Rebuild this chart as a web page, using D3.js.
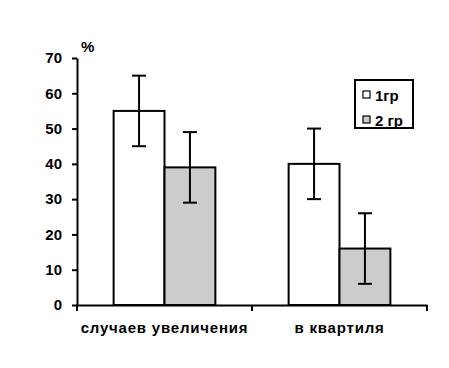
<!DOCTYPE html>
<html>
<head>
<meta charset="utf-8">
<script src="https://cdn.jsdelivr.net/npm/d3@7"></script>
<style>
  body { margin: 0; background: #fff; }
  text { font-family: "Liberation Sans", Arial, sans-serif; font-weight: bold; }
</style>
</head>
<body>
<div id="chart"></div>
<script>
// data
const categories = ["случаев увеличения", "в квартиля"];
const seriesNames = ["1гр", "2 гр"];
const group1 = [55, 40];
const group2 = [39, 16];
const err1 = [10, 10];
const err2 = [10, 10];
const yTicks = [0, 10, 20, 30, 40, 50, 60, 70];

const W = 449, H = 368;
const margin = { top: 58, right: 22, bottom: 63, left: 77 };
const width = W - margin.left - margin.right;
const height = H - margin.top - margin.bottom;

const svg = d3.select("#chart").append("svg")
  .attr("width", W).attr("height", H)
  .append("g")
  .attr("transform", "translate(" + margin.left + "," + margin.top + ")");

const rows = categories.map((c, i) => ({
  cat: c,
  vals: [
    { s: seriesNames[0], v: group1[i], e: err1[i] },
    { s: seriesNames[1], v: group2[i], e: err2[i] }
  ]
}));

const x0 = d3.scaleBand().domain(categories).range([0, width]).padding(0);
const x1 = d3.scaleBand().domain(seriesNames).range([0, x0.bandwidth()])
  .paddingInner(0).paddingOuter(0.72);
const y = d3.scaleLinear().domain([0, 70]).range([height, 0]);
const color = d3.scaleOrdinal().domain(seriesNames).range(["#ffffff", "#cccccc"]);

// bars
const g = svg.selectAll(".grp").data(rows).join("g")
  .attr("transform", d => "translate(" + x0(d.cat) + ",0)");

g.selectAll("rect").data(d => d.vals).join("rect")
  .attr("x", d => x1(d.s))
  .attr("y", d => y(d.v))
  .attr("width", x1.bandwidth())
  .attr("height", d => height - y(d.v))
  .attr("fill", d => color(d.s))
  .attr("stroke", "#000")
  .attr("stroke-width", 2);

// error bars
const eb = g.selectAll(".err").data(d => d.vals).join("g")
  .attr("transform", d => "translate(" + (x1(d.s) + x1.bandwidth() / 2) + ",0)")
  .attr("stroke", "#000").attr("stroke-width", 2);
eb.append("line").attr("y1", d => y(d.v - d.e)).attr("y2", d => y(d.v + d.e));
eb.append("line").attr("x1", -7).attr("x2", 7)
  .attr("y1", d => y(d.v + d.e)).attr("y2", d => y(d.v + d.e));
eb.append("line").attr("x1", -7).attr("x2", 7)
  .attr("y1", d => y(d.v - d.e)).attr("y2", d => y(d.v - d.e));

// y axis
const yAxis = svg.append("g")
  .call(d3.axisLeft(y).tickValues(yTicks).tickSize(5).tickPadding(10).tickSizeOuter(0));
yAxis.select(".domain").attr("stroke-width", 2);
yAxis.selectAll(".tick line").attr("stroke-width", 2);
yAxis.selectAll("text").style("font-size", "15px").attr("fill", "#000");

// x axis
const xAxis = svg.append("g")
  .attr("transform", "translate(0," + height + ")")
  .call(d3.axisBottom(x0).tickSize(0));
xAxis.select(".domain").attr("stroke-width", 2);
xAxis.selectAll("text")
  .attr("y", 28).attr("dy", 0)
  .style("font-size", "15px")
  .style("letter-spacing", "0.8px")
  .attr("fill", "#000");
// tick marks between categories
const bounds = [0, x0.step(), width];
xAxis.selectAll(".sep").data(bounds).join("line")
  .attr("x1", d => d).attr("x2", d => d)
  .attr("y1", 0).attr("y2", 6)
  .attr("stroke", "#000").attr("stroke-width", 2);

// % label
svg.append("text")
  .attr("x", 4).attr("y", -6)
  .style("font-size", "15px")
  .text("%");

// legend
const lg = svg.append("g").attr("transform", "translate(" + (355 - margin.left) + "," + (80 - margin.top) + ")");
lg.append("rect").attr("width", 58).attr("height", 48)
  .attr("fill", "#fff").attr("stroke", "#000").attr("stroke-width", 2);
const li = lg.selectAll(".li").data(seriesNames).join("g")
  .attr("transform", (d, i) => "translate(8," + (11 + i * 25) + ")");
li.append("rect").attr("width", 7).attr("height", 7)
  .attr("fill", d => color(d)).attr("stroke", "#000").attr("stroke-width", 1.2);
li.append("text").attr("x", 12).attr("y", 10)
  .style("font-size", "15px")
  .text(d => d);
</script>
</body>
</html>
